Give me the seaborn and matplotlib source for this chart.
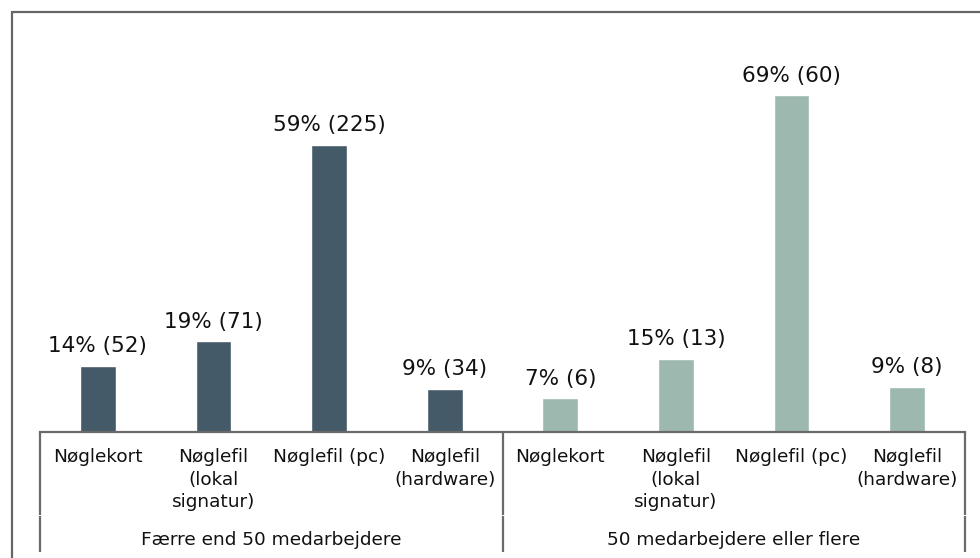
import matplotlib
matplotlib.use("Agg")
import matplotlib.pyplot as plt
from matplotlib.lines import Line2D
import seaborn as sns
import pandas as pd

# Key types used, split by company size (number of respondents)
categories = ["Nøglekort", "Nøglefil\n(lokal\nsignatur)", "Nøglefil (pc)", "Nøglefil\n(hardware)"]
groups = ["Færre end 50 medarbejdere", "50 medarbejdere eller flere"]
counts_small = [52, 71, 225, 34]
counts_large = [6, 13, 60, 8]
group_colors = ["#455A68", "#9DB8AF"]

rows = []
for g, counts in zip(groups, [counts_small, counts_large]):
    total = sum(counts)
    for cat, n in zip(categories, counts):
        rows.append({"slot": f"{g}|{cat}", "group": g, "category": cat,
                     "count": n, "share": 100.0 * n / total})
df = pd.DataFrame(rows)

sns.set_theme(style="white")
plt.rcParams["font.family"] = ["DejaVu Sans"]

W, H, DPI = 980, 558, 100
fig = plt.figure(figsize=(W / DPI, H / DPI), dpi=DPI)
fig.patch.set_facecolor("white")

# axes placed in pixel terms: baseline at y=432, plot spans x=40..965
left, right, base, top = 40, 965, 432, 41.6
ax = fig.add_axes([left / W, (H - base) / H, (right - left) / W, (base - top) / H])

sns.barplot(data=df, x="slot", y="share", hue="group", dodge=False,
            palette=group_colors, width=0.31, legend=False, ax=ax,
            saturation=1, errorbar=None)

ax.set_ylim(0, 80)
ax.set_xlim(-0.5, len(df) - 0.5)
ax.set_xlabel("")
ax.set_ylabel("")
ax.set_yticks([])

# value labels: rounded share and respondent count
for container, (g, sub) in zip(ax.containers, df.groupby("group", sort=False)):
    labels = [f"{s:.0f}% ({c})" for s, c in zip(sub["share"], sub["count"])]
    ax.bar_label(container, labels=labels, padding=7, fontsize=15.5, color="#111111")

# first level of category axis
ax.set_xticks(range(len(df)))
ax.set_xticklabels(df["category"], fontsize=13.3, color="#111111", linespacing=1.34)
ax.tick_params(axis="x", length=0, pad=11.5)

for side in ["top", "right", "left"]:
    ax.spines[side].set_visible(False)
ax.spines["bottom"].set_color("#6a6a6a")
ax.spines["bottom"].set_linewidth(1.6)

# second level: group names and separators
axis_h_px = base - top
tr = ax.get_xaxis_transform()
n_per = len(categories)
for i, g in enumerate(groups):
    center = i * n_per + (n_per - 1) / 2
    ax.annotate(g, xy=(center, 0), xycoords=tr, xytext=(0, -108 * 72 / DPI),
                textcoords="offset points", ha="center", va="center",
                fontsize=13.3, color="#111111", annotation_clip=False)
for xb in [-0.5 + k * n_per for k in range(len(groups) + 1)]:
    for y0, y1 in [(0, -82.5), (-84, -120)]:
        ax.plot([xb, xb], [y0 / axis_h_px, y1 / axis_h_px], transform=tr,
                color="#6a6a6a", lw=1.6, clip_on=False, solid_capstyle="butt")

# outer frame (top and left edges)
fig.add_artist(Line2D([11.5 / W, 1.0], [1 - 11.5 / H, 1 - 11.5 / H],
                      transform=fig.transFigure, color="#666666", lw=1.6))
fig.add_artist(Line2D([11.5 / W, 11.5 / W], [0.0, 1 - 11.5 / H],
                      transform=fig.transFigure, color="#666666", lw=1.6))

fig.savefig("out.png", dpi=DPI)
